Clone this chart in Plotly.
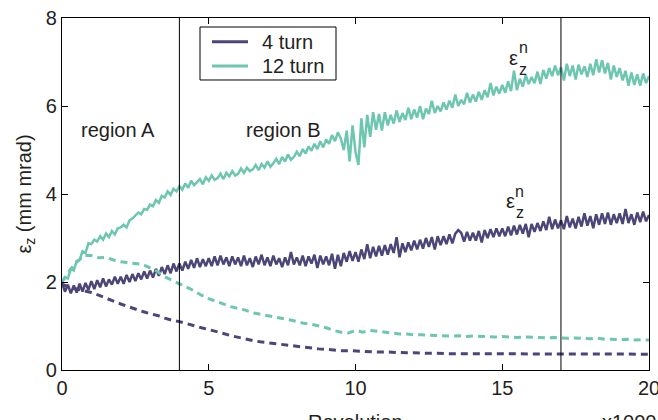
import plotly.graph_objects as go

# Revolution axis (in units of 1000 revolutions)
rev_fine = [round(i * 0.1, 1) for i in range(201)]
rev_coarse = [round(i * 0.25, 2) for i in range(81)]

# Total emittance, 12-turn injection (solid)
eps_12 = [
    2.00, 2.10, 2.08, 2.30, 2.26, 2.48, 2.50, 2.70, 2.66, 2.88,
    2.86, 2.96, 2.92, 3.04, 2.96, 3.10, 3.02, 3.16, 3.08, 3.22,
    3.24, 3.30, 3.24, 3.40, 3.44, 3.50, 3.58, 3.54, 3.66, 3.64,
    3.76, 3.72, 3.86, 3.80, 3.96, 3.92, 4.06, 3.98, 4.12, 4.06,
    4.18, 4.10, 4.24, 4.14, 4.30, 4.20, 4.26, 4.34, 4.22, 4.38,
    4.30, 4.42, 4.32, 4.36, 4.46, 4.34, 4.48, 4.40, 4.52, 4.42,
    4.46, 4.58, 4.48, 4.60, 4.52, 4.56, 4.66, 4.54, 4.68, 4.60,
    4.74, 4.62, 4.70, 4.80, 4.68, 4.84, 4.74, 4.90, 4.78, 4.84,
    4.96, 4.86, 5.02, 4.92, 5.08, 4.98, 5.14, 5.02, 5.20, 5.06,
    5.24, 5.14, 5.34, 5.20, 5.40, 5.26, 5.00, 5.44, 4.74, 5.56,
    4.96, 4.66, 5.72, 5.06, 5.80, 5.30, 5.86, 5.46, 5.82, 5.44,
    5.86, 5.56, 5.80, 5.60, 5.90, 5.64, 5.84, 5.68, 5.96, 5.70,
    5.92, 5.74, 6.00, 5.70, 5.94, 5.82, 6.12, 5.84, 6.00, 5.88,
    6.08, 5.92, 6.12, 5.96, 6.26, 6.00, 6.14, 6.04, 6.30, 6.08,
    6.26, 6.10, 6.32, 6.14, 6.36, 6.20, 6.52, 6.24, 6.44, 6.28,
    6.48, 6.30, 6.56, 6.34, 6.80, 6.36, 6.62, 6.44, 6.70, 6.50,
    6.66, 6.52, 6.78, 6.50, 6.82, 6.62, 6.86, 6.68, 6.92, 6.70,
    6.88, 6.58, 6.96, 6.68, 6.92, 6.60, 6.94, 6.72, 6.90, 6.66,
    6.96, 6.70, 7.06, 6.76, 7.04, 6.74, 6.98, 6.60, 6.92, 6.66,
    6.86, 6.58, 6.80, 6.46, 6.76, 6.48, 6.72, 6.46, 6.74, 6.52,
    6.68,
]

# Total emittance, 4-turn injection (solid)
eps_4 = [
    1.98, 1.78, 1.94, 1.74, 1.92, 1.76, 1.96, 1.78, 1.98, 1.82,
    2.02, 1.84, 2.04, 1.88, 2.08, 1.90, 2.06, 1.94, 2.12, 1.96,
    2.12, 1.96, 2.16, 2.00, 2.18, 2.02, 2.20, 2.06, 2.24, 2.08,
    2.26, 2.10, 2.30, 2.14, 2.34, 2.18, 2.38, 2.20, 2.42, 2.24,
    2.42, 2.26, 2.46, 2.30, 2.50, 2.32, 2.54, 2.34, 2.52, 2.36,
    2.54, 2.36, 2.58, 2.38, 2.60, 2.40, 2.56, 2.36, 2.58, 2.40,
    2.56, 2.36, 2.60, 2.38, 2.54, 2.34, 2.58, 2.40, 2.62, 2.38,
    2.56, 2.36, 2.60, 2.40, 2.54, 2.34, 2.56, 2.38, 2.68, 2.40,
    2.56, 2.38, 2.60, 2.36, 2.58, 2.42, 2.62, 2.32, 2.60, 2.40,
    2.58, 2.38, 2.64, 2.30, 2.62, 2.36, 2.66, 2.46, 2.70, 2.48,
    2.68, 2.46, 2.74, 2.52, 2.86, 2.54, 2.80, 2.58, 2.82, 2.60,
    2.84, 2.62, 2.86, 2.66, 3.02, 2.56, 2.88, 2.68, 2.90, 2.72,
    2.94, 2.74, 2.96, 2.76, 3.00, 2.80, 3.02, 2.74, 3.04, 2.84,
    3.04, 2.86, 3.08, 2.88, 3.10, 3.18, 3.12, 2.92, 3.14, 2.94,
    3.12, 2.94, 3.16, 2.90, 3.18, 3.00, 3.20, 3.02, 3.22, 3.04,
    3.22, 3.04, 3.26, 3.06, 3.28, 3.08, 3.30, 3.10, 3.32, 3.02,
    3.32, 3.14, 3.34, 3.16, 3.38, 3.18, 3.48, 3.20, 3.42, 3.22,
    3.40, 3.20, 3.50, 3.24, 3.44, 3.22, 3.48, 3.26, 3.56, 3.28,
    3.50, 3.22, 3.54, 3.30, 3.56, 3.32, 3.58, 3.30, 3.54, 3.34,
    3.56, 3.32, 3.66, 3.34, 3.54, 3.30, 3.58, 3.36, 3.60, 3.38,
    3.52,
]

# Core emittance, 12-turn injection (dashed)
core_12 = [
    2.00, 2.25, 2.45, 2.60, 2.60, 2.55, 2.56, 2.50, 2.46, 2.44,
    2.42, 2.40, 2.32, 2.24, 2.12, 2.04, 1.96, 1.88, 1.80, 1.70,
    1.62, 1.56, 1.50, 1.44, 1.40, 1.36, 1.30, 1.27, 1.24, 1.21,
    1.18, 1.14, 1.10, 1.06, 1.04, 1.00, 0.96, 0.90, 0.86, 0.84,
    0.90, 0.86, 0.90, 0.88, 0.86, 0.85, 0.82, 0.82, 0.80, 0.80,
    0.79, 0.78, 0.78, 0.77, 0.78, 0.76, 0.77, 0.76, 0.76, 0.75,
    0.76, 0.75, 0.74, 0.75, 0.74, 0.74, 0.73, 0.74, 0.73, 0.72,
    0.73, 0.72, 0.71, 0.72, 0.70, 0.70, 0.69, 0.70, 0.68, 0.69,
    0.68,
]

# Core emittance, 4-turn injection (dashed)
core_4 = [
    1.95, 1.88, 1.84, 1.80, 1.76, 1.70, 1.63, 1.56, 1.50, 1.44,
    1.38, 1.33, 1.28, 1.24, 1.18, 1.13, 1.10, 1.05, 1.00, 0.96,
    0.92, 0.88, 0.83, 0.78, 0.74, 0.70, 0.67, 0.64, 0.62, 0.60,
    0.57, 0.55, 0.53, 0.51, 0.50, 0.48, 0.47, 0.45, 0.44, 0.44,
    0.43, 0.42, 0.42, 0.41, 0.41, 0.40, 0.40, 0.39, 0.39, 0.38,
    0.38, 0.38, 0.37, 0.37, 0.37, 0.37, 0.36, 0.37, 0.36, 0.36,
    0.36, 0.37, 0.36, 0.36, 0.36, 0.37, 0.36, 0.36, 0.36, 0.37,
    0.36, 0.36, 0.36, 0.37, 0.36, 0.36, 0.36, 0.36, 0.36, 0.37,
    0.36,
]

series_names = ["4 turn", "12 turn"]
region_bounds = [4, 17]
x_ticks = [0, 5, 10, 15, 20]
y_ticks = [0, 2, 4, 6, 8]

PURPLE = "#4b4677"
TEAL = "#6cc6b0"
INK = "#231f20"
FONT = "Liberation Sans, Arial, Helvetica, sans-serif"
FS = 20

fig = go.Figure()
fig.add_trace(go.Scatter(x=rev_fine, y=eps_4, mode="lines", name=series_names[0],
                         line=dict(color=PURPLE, width=2.5)))
fig.add_trace(go.Scatter(x=rev_fine, y=eps_12, mode="lines", name=series_names[1],
                         line=dict(color=TEAL, width=2.5)))
fig.add_trace(go.Scatter(x=rev_coarse, y=core_12, mode="lines",
                         line=dict(color=TEAL, width=3, dash="7px,5px")))
fig.add_trace(go.Scatter(x=rev_coarse, y=core_4, mode="lines",
                         line=dict(color=PURPLE, width=3, dash="7px,5px")))

for xb in region_bounds:
    fig.add_shape(type="line", x0=xb, x1=xb, y0=0, y1=8, xref="x", yref="y",
                  line=dict(color="black", width=1), layer="above")

# Legend box with line keys (paper coordinates)
fig.add_shape(type="rect", xref="paper", yref="paper",
              x0=0.2351, x1=0.4668, y0=0.8239, y1=0.9744,
              line=dict(color="black", width=1), fillcolor="white", layer="above")
for name, color, ky in [(series_names[0], PURPLE, 0.9327), (series_names[1], TEAL, 0.8636)]:
    fig.add_shape(type="line", xref="paper", yref="paper",
                  x0=0.2555, x1=0.3169, y0=ky, y1=ky,
                  line=dict(color=color, width=3), layer="above")
    fig.add_annotation(xref="paper", yref="paper", x=0.3373, y=ky,
                       xanchor="left", yanchor="middle", text=name, showarrow=False,
                       font=dict(size=FS, family=FONT, color=INK))

small = dict(size=16, family=FONT, color=INK)
annotations = [
    dict(x=1.91, y=5.46, text="region A"),
    dict(x=7.53, y=5.46, text="region B"),
    # epsilon_z^n labels (symbol, superscript n, subscript z)
    dict(x=15.40, y=7.08, text="ε"),
    dict(x=15.72, y=7.32, text="n", font=small),
    dict(x=15.72, y=6.84, text="z", font=small),
    dict(x=15.28, y=3.83, text="ε"),
    dict(x=15.60, y=4.06, text="n", font=small),
    dict(x=15.60, y=3.58, text="z", font=small),
]
for a in annotations:
    fig.add_annotation(xref="x", yref="y", showarrow=False,
                       font=a.pop("font", dict(size=FS, family=FONT, color=INK)), **a)

fig.add_annotation(xref="x", yref="paper", x=10, y=-0.112, yanchor="top",
                   text="Revolution", showarrow=False,
                   font=dict(size=FS, family=FONT, color=INK))
fig.add_annotation(xref="paper", yref="paper", x=1.017, y=-0.112, xanchor="right",
                   yanchor="top", text="x1000", showarrow=False,
                   font=dict(size=FS, family=FONT, color=INK))

axis_common = dict(showline=True, linecolor="black", linewidth=1.2, mirror="allticks",
                   ticks="inside", ticklen=6, tickwidth=1, tickcolor="black",
                   showgrid=False, zeroline=False, ticklabeloverflow="allow",
                   automargin=False,
                   tickfont=dict(size=FS, family=FONT, color=INK))

fig.update_layout(
    width=658, height=420,
    margin=dict(l=62, r=9, t=18, b=50),
    paper_bgcolor="white", plot_bgcolor="white",
    font=dict(family=FONT, size=FS, color=INK),
    xaxis=dict(range=[0, 20], tickvals=x_ticks, **axis_common),
    yaxis=dict(range=[0, 8], tickvals=y_ticks,
               title=dict(text="ε<sub>z</sub> (mm mrad)", standoff=8,
                          font=dict(size=FS, family=FONT, color=INK)),
               **axis_common),
    showlegend=False,
)

fig.write_html("out.html")
